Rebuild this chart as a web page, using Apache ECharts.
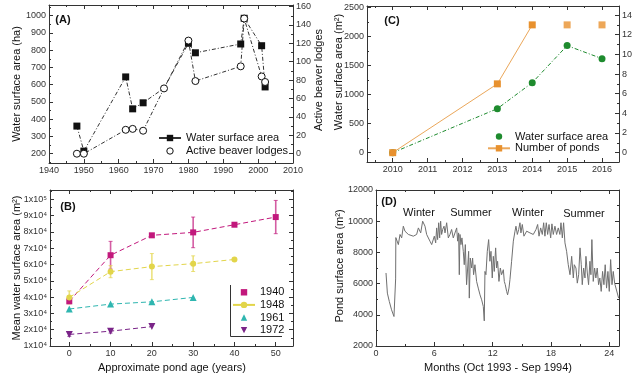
<!DOCTYPE html>
<html><head><meta charset="utf-8">
<script src="https://cdn.jsdelivr.net/npm/echarts@6/dist/echarts.min.js"></script>
<style>html,body{margin:0;padding:0;background:#fff}#c{width:636px;height:382px}</style>
</head><body><div id="c"></div>
<script>
// ---------- Panel A ----------
const yearsA  = [1948,1950,1962,1964,1967,1973,1980,1982,1995,1996,2001,2002];
const waterA  = [360,215,645,460,495,580,840,785,836,985,826,587];
const lodgesA = [0,0,26,27,25,71,123,79,95,147,84,78];
const ticksAx = [1940,1950,1960,1970,1980,1990,2000,2010];
const minorAx = [1945,1955,1965,1975,1985,1995,2005];
const ticksAy = [200,300,400,500,600,700,800,900,1000];
const minorAy = [150,250,350,450,550,650,750,850,950,1050];
const ticksAr = [0,20,40,60,80,100,120,140,160];
const minorAr = [10,30,50,70,90,110,130,150];
// ---------- Panel C ----------
const yearsC  = [2010,2013,2014,2015,2016];
const waterC  = [0,757,1204,1841,1617];
const pondsC  = [0,7,13,13,13];
const pondsJoined = 3; // first points joined by the line
const ticksCx = [2010,2011,2012,2013,2014,2015,2016];
const minorCx = [2009.5,2010.5,2011.5,2012.5,2013.5,2014.5,2015.5];
const ticksCy = [0,500,1000,1500,2000,2500];
const minorCy = [250,750,1250,1750,2250];
const ticksCr = [0,2,4,6,8,10,12,14];
const minorCr = [1,3,5,7,9,11,13];
// ---------- Panel B ----------
const ageB   = [0,10,20,30,40,50];
const s1940  = [37400,65700,77900,79700,84400,89100];
const e1940  = [800,8500,0,9400,0,10200];
const s1948  = [39800,55600,58700,60500,63100];
const e1948  = [4000,3700,8000,4800,0];
const s1961  = [32700,35700,37100,39800];
const s1972  = [17100,19100,21900];
const e1972  = [1200,1200,0];
const ticksBx = [0,10,20,30,40,50];
const minorBx = [5,15,25,35,45];
const ticksBy = [10000,20000,30000,40000,50000,60000,70000,80000,90000,100000];
const minorBy = [15000,25000,35000,45000,55000,65000,75000,85000,95000,105000];
// ---------- Panel D ----------
const monthsD = [1.03,1.17,1.37,1.6,1.85,1.95,2.02,2.04,2.3,2.47,
 2.64,2.81,2.98,3.33,3.84,4.18,4.36,4.46,4.6,4.8,
 4.87,5.04,5.21,5.55,5.73,5.9,6.0,6.14,6.24,6.34,
 6.45,6.55,6.65,6.75,6.86,7.0,7.1,7.27,7.44,7.61,
 7.78,7.95,8.12,8.3,8.4,8.5,8.57,8.64,8.74,8.84,
 8.98,9.08,9.19,9.32,9.43,9.53,9.6,9.7,9.84,9.94,
 10.04,10.18,10.35,10.52,10.7,10.87,11.04,11.14,11.21,11.31,
 11.45,11.59,11.72,11.83,11.96,12.07,12.17,12.31,12.41,12.51,
 12.65,12.79,12.92,13.1,13.2,13.3,13.44,13.54,13.68,13.78,
 13.95,14.13,14.3,14.4,14.54,14.68,14.81,14.91,15.05,15.22,
 15.5,15.84,16.18,16.46,16.63,16.77,16.94,17.11,17.25,17.38,
 17.52,17.66,17.8,17.97,18.1,18.24,18.41,18.58,18.75,18.92,
 19.03,19.17,19.3,19.44,19.61,19.78,19.96,20.13,20.3,20.4,
 20.57,20.71,20.85,20.99,21.12,21.22,21.36,21.5,21.6,21.74,
 21.87,22.01,22.11,22.21,22.35,22.49,22.62,22.76,22.9,23.03,
 23.17,23.31,23.45,23.58,23.72,23.86,24.0,24.14,24.28,24.41,
 24.55,24.75,24.96];
const areaD = [6680,5390,4850,4320,3890,3780,6300,8950,8500,9150,
 8930,9680,9360,9150,9040,9150,9570,9680,9250,10000,
 10110,9680,9150,8720,8500,8500,9040,8610,9570,8820,
 9900,8930,10000,9150,9470,9680,9250,9900,8930,9150,
 9470,8930,8820,9570,8720,9250,6570,9150,8500,8930,
 8070,7210,8500,5930,7000,8070,5070,7640,7000,7640,
 6570,7210,6140,5710,5280,4960,4530,3610,6780,6570,
 8070,8820,7430,8070,6360,7750,6780,8290,7000,7430,
 6140,7000,6570,6890,6140,5930,5500,5280,5710,6250,
 7430,8720,9360,9680,9150,9470,9900,9250,9790,9040,
 9360,9250,9150,9470,9790,9040,9570,9150,9900,9040,
 9900,9150,9790,8930,9830,9150,9680,9150,9570,9150,
 9900,8930,9900,8610,8070,7210,6570,7750,6360,7210,
 7000,6030,6570,8290,7210,5930,7000,6360,7750,6680,
 5930,7430,6570,8820,6140,7000,6360,7000,5930,6360,
 5500,6780,5930,7210,5710,6780,5500,7540,5930,6780,
 6030,6030,5070];
const ticksDx = [0,6,12,18,24];
const minorDx = [3,9,15,21];
const ticksDy = [2000,4000,6000,8000,10000,12000];
const minorDy = [3000,5000,7000,9000,11000];

const FONT = '"Liberation Sans", Arial, sans-serif';
const AX = '#333', TXT = '#333';
const X = [], Y = [];
const num = v => String(v);

function addAxis(list, grid, pos, min, max, majors, minors, labels, fmt) {
  const i = list.length;
  const common = {type:'value', gridIndex:grid, position:pos, min:min, max:max,
    splitLine:{show:false}, axisPointer:{show:false}};
  list.push(Object.assign({}, common, {
    axisLine:{show:true, onZero:false, lineStyle:{color:AX, width:1}},
    axisTick:{show:true, inside:true, length:4, customValues:majors, lineStyle:{color:AX, width:1}},
    axisLabel:{show:labels, customValues:majors, margin:3, fontSize:9, color:TXT,
      fontFamily:FONT, formatter: fmt || num}
  }));
  list.push(Object.assign({}, common, {
    axisLine:{show:false, onZero:false},
    axisTick:{show:true, inside:true, length:2, customValues:minors, lineStyle:{color:AX, width:1}},
    axisLabel:{show:false}
  }));
  return i;
}

const grids = [
  {left:49, top:5, width:244, height:158},   // A
  {left:367, top:6, width:252, height:156},  // C
  {left:50, top:190, width:243, height:156}, // B
  {left:376, top:190, width:243, height:156} // D
];

// A
const axA = addAxis(X, 0, 'bottom', 1940, 2010, ticksAx, minorAx, true);
addAxis(X, 0, 'top', 1940, 2010, ticksAx, minorAx, false);
const ayA = addAxis(Y, 0, 'left', 146, 1062, ticksAy, minorAy, true);
const ayAr = addAxis(Y, 0, 'right', -10.1, 161.7, ticksAr, minorAr, true);
// C
const axC = addAxis(X, 1, 'bottom', 2009.263, 2016.487, ticksCx, minorCx, true);
addAxis(X, 1, 'top', 2009.263, 2016.487, ticksCx, minorCx, false);
const ayC = addAxis(Y, 1, 'left', -160, 2522, ticksCy, minorCy, true);
const ayCr = addAxis(Y, 1, 'right', -0.95, 14.92, ticksCr, minorCr, true);
// B
const bFmt = v => v === 100000 ? '1x10\u2075' : (v/10000) + 'x10\u2074';
const axB = addAxis(X, 2, 'bottom', -4.67, 54.18, ticksBx, minorBx, true);
addAxis(X, 2, 'top', -4.67, 54.18, ticksBx, minorBx, false);
const ayB = addAxis(Y, 2, 'left', 10000, 105700, ticksBy, minorBy, true, bFmt);
addAxis(Y, 2, 'right', 10000, 105700, ticksBy, minorBy, false);
// D
const axD = addAxis(X, 3, 'bottom', 0, 25, ticksDx, minorDx, true);
addAxis(X, 3, 'top', 0, 25, ticksDx, minorDx, false);
const ayD = addAxis(Y, 3, 'left', 2000, 12000, ticksDy, minorDy, true);
addAxis(Y, 3, 'right', 2000, 12000, ticksDy, minorDy, false);

const pair = (xs, ys) => ys.map((v,i) => [xs[i], v]);

function errSeries(xs, ys, es, color, xi, yi) {
  const data = [];
  ys.forEach((v,i) => { if (es[i] > 0) data.push([xs[i], v - es[i], v + es[i]]); });
  return {type:'custom', xAxisIndex:xi, yAxisIndex:yi, data:data, z:1, silent:true,
    encode:{x:0, y:[1,2]},
    renderItem: function(params, api) {
      const x = api.value(0);
      const lo = api.coord([x, api.value(1)]);
      const hi = api.coord([x, api.value(2)]);
      const w = 2;
      return {type:'group', children:[
        {type:'line', shape:{x1:lo[0], y1:lo[1], x2:hi[0], y2:hi[1]}, style:{stroke:color, lineWidth:1.6, opacity:0.7}},
        {type:'line', shape:{x1:hi[0]-w, y1:hi[1], x2:hi[0]+w, y2:hi[1]}, style:{stroke:color, lineWidth:1, opacity:0.7}},
        {type:'line', shape:{x1:lo[0]-w, y1:lo[1], x2:lo[0]+w, y2:lo[1]}, style:{stroke:color, lineWidth:1, opacity:0.7}}
      ]};
    }
  };
}

const DD = [4,2,1,2];
const C1940 = '#C2187C', C1948 = '#E2D54A', C1961 = '#2FB6B0', C1972 = '#7A2488';
const GREEN = '#1E8B2E', ORANGE = '#E8912E';

const series = [
  // A
  {type:'line', name:'Water surface area', xAxisIndex:axA, yAxisIndex:ayA,
   data: pair(yearsA, waterA).map(p => p[0] === 1973 ? {value:p, symbol:'none'} : p),
   symbol:'rect', symbolSize:7, itemStyle:{color:'#111'},
   lineStyle:{color:'#333', width:1, type:DD}},
  {type:'line', name:'Active beaver lodges', xAxisIndex:axA, yAxisIndex:ayAr,
   data: pair(yearsA, lodgesA), symbol:'circle', symbolSize:7,
   itemStyle:{color:'#fff', borderColor:'#111', borderWidth:1}, lineStyle:{color:'#333', width:1, type:DD}},
  // C
  {type:'line', name:'Water surface area (C)', xAxisIndex:axC, yAxisIndex:ayC,
   data: pair(yearsC, waterC), symbol:'circle', symbolSize:7, itemStyle:{color:GREEN},
   lineStyle:{color:GREEN, width:1, type:DD}},
  {type:'line', name:'Number of ponds', xAxisIndex:axC, yAxisIndex:ayCr,
   data: pair(yearsC, pondsC).slice(0, pondsJoined), symbol:'rect', symbolSize:7,
   itemStyle:{color:ORANGE}, lineStyle:{color:'#EBA75A', width:1}},
  {type:'scatter', name:'Number of ponds', xAxisIndex:axC, yAxisIndex:ayCr,
   data: pair(yearsC, pondsC).slice(pondsJoined), symbol:'rect', symbolSize:7,
   itemStyle:{color:ORANGE}},
  // B
  errSeries(ageB, s1940, e1940, C1940, axB, ayB),
  errSeries(ageB, s1948, e1948, C1948, axB, ayB),
  errSeries(ageB, s1972, e1972, C1972, axB, ayB),
  {type:'line', name:'1940', xAxisIndex:axB, yAxisIndex:ayB, data:pair(ageB, s1940),
   symbol:'rect', symbolSize:6, itemStyle:{color:C1940}, lineStyle:{color:C1940, width:1, type:[5,3]}},
  {type:'line', name:'1948', xAxisIndex:axB, yAxisIndex:ayB, data:pair(ageB, s1948),
   symbol:'circle', symbolSize:6, itemStyle:{color:C1948}, lineStyle:{color:C1948, width:1, type:[5,3]}},
  {type:'line', name:'1961', xAxisIndex:axB, yAxisIndex:ayB, data:pair(ageB, s1961),
   symbol:'triangle', symbolSize:7, itemStyle:{color:C1961}, lineStyle:{color:C1961, width:1, type:[5,3]}},
  {type:'line', name:'1972', xAxisIndex:axB, yAxisIndex:ayB, data:pair(ageB, s1972),
   symbol:'triangle', symbolRotate:180, symbolSize:7, itemStyle:{color:C1972}, lineStyle:{color:C1972, width:1, type:[5,3]}},
  // D
  {type:'line', name:'Pond', xAxisIndex:axD, yAxisIndex:ayD, data:pair(monthsD, areaD),
   showSymbol:false, symbol:'none', lineStyle:{color:'#707070', width:1}}
];

const legText = {fontSize:11, color:'#111', fontFamily:FONT, lineHeight:11};
const noLine = {opacity:0};
const legends = [
  {data:['Water surface area',
         {name:'Active beaver lodges', lineStyle:noLine, itemStyle:{color:'#fff', borderColor:'#111', borderWidth:1}}],
   orient:'vertical', left:158, top:132.5, itemWidth:22, itemHeight:8, itemGap:2, padding:0,
   selectedMode:false, textStyle:legText, lineStyle:{type:'solid'}},
  {data:[{name:'Water surface area (C)', lineStyle:noLine}, 'Number of ponds'],
   formatter: n => n.replace(' (C)', ''),
   orient:'vertical', left:487, top:131, itemWidth:22, itemHeight:8, itemGap:0.8, padding:0,
   selectedMode:false, textStyle:legText, lineStyle:{type:'solid'}},
  {data:[{name:'1940', lineStyle:noLine}, '1948', {name:'1961', lineStyle:noLine}, {name:'1972', lineStyle:noLine}],
   orient:'vertical', left:232, top:286.8, itemWidth:22, itemHeight:8, itemGap:1.6, padding:0,
   selectedMode:false, textStyle:legText, lineStyle:{type:'solid'}}
];

function txt(x, y, s, opts) {
  opts = opts || {};
  return {type:'text', x:x, y:y, rotation: opts.rot ? Math.PI/2 : 0, silent:true,
    style:{text:s, font:(opts.bold ? 'bold ' : '') + (opts.size || 11) + 'px ' + FONT,
      fill:'#111', align:'center', verticalAlign:'middle', textAlign:'center', textVerticalAlign:'middle'}};
}
const graphic = [
  txt(63, 20, '(A)', {bold:true}),
  txt(392, 21, '(C)', {bold:true}),
  txt(68, 207, '(B)', {bold:true}),
  txt(389, 202, '(D)', {bold:true}),
  txt(17, 84, 'Water surface area (ha)', {rot:true}),
  txt(319, 80, 'Active beaver lodges', {rot:true}),
  txt(339, 72, 'Water surface area (m\u00B2)', {rot:true}),
  txt(17, 268, 'Mean water surface area (m\u00B2)', {rot:true}),
  txt(340, 266, 'Pond surface area (m\u00B2)', {rot:true}),
  txt(172, 368, 'Approximate pond age (years)'),
  txt(498, 368, 'Months (Oct 1993 - Sep 1994)'),
  txt(419, 213, 'Winter'),
  txt(471, 213, 'Summer'),
  txt(528, 213, 'Winter'),
  txt(584, 214, 'Summer'),
  {type:'polyline', silent:true, shape:{points:[[230.5,285],[230.5,336.5],[282,336.5]]},
   style:{stroke:'#333', lineWidth:1, fill:null}}
];

const chart = echarts.init(document.getElementById('c'), null, {renderer:'canvas'});
chart.setOption({
  animation:false, backgroundColor:'#fff',
  grid:grids, xAxis:X, yAxis:Y, series:series, legend:legends, graphic:graphic
});
</script></body></html>
